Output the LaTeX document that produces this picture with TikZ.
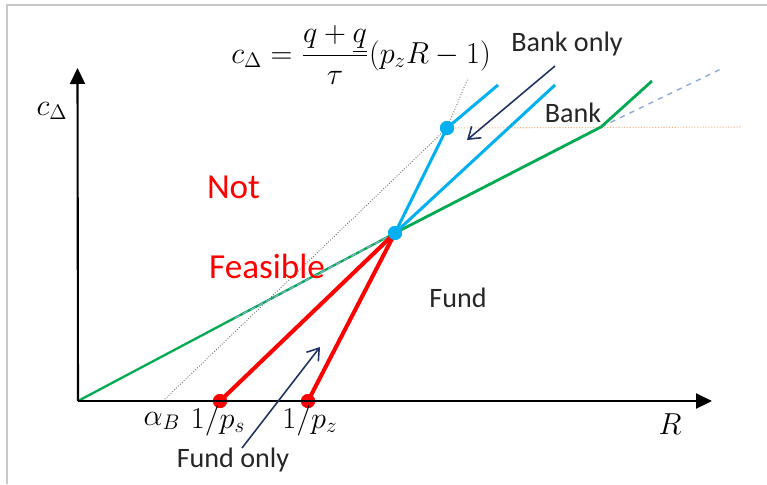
\documentclass[tikz,border=0pt]{standalone}
\usepackage[no-math]{fontspec}
\setmainfont{Carlito}
\usepackage{tikz}
\usetikzlibrary{arrows.meta,positioning}
\definecolor{fundgreen}{RGB}{0,170,80}
\definecolor{bankblue}{RGB}{0,176,240}
\definecolor{fundred}{RGB}{255,0,0}
\definecolor{arrnavy}{RGB}{31,50,100}
\definecolor{capora}{RGB}{244,177,131}
\definecolor{dashblue}{RGB}{143,170,220}
\definecolor{framegray}{RGB}{200,200,200}

\begin{document}
\begin{tikzpicture}[x=0.02cm,y=-0.02cm,>=Stealth,
  txt/.style={font=\fontsize{16}{19}\selectfont,text=black!85,inner sep=0pt,anchor=base},
  big/.style={txt,font=\fontsize{20}{24}\selectfont,text=fundred},
  mth/.style={font=\fontsize{17}{20}\selectfont,inner sep=0pt,anchor=base},
  axis/.style={line width=1.2pt,-{Triangle[length=0.32cm,width=0.3cm]}},
  dot/.style={circle,inner sep=0pt,minimum size=0.28cm},
  pointer/.style={arrnavy,line width=0.9pt,-{Straight Barb[length=0.22cm,width=0.3cm]}}]
  \useasboundingbox (0,0) rectangle (767,484);
  \draw[framegray,line width=0.8pt] (7,484) -- (7,5) -- (767,5);
  % points
  \coordinate (O) at (78,401);
  \coordinate (xend) at (712,401);
  \coordinate (yend) at (77.5,68);
  \coordinate (aB) at (163,401);
  \coordinate (kb) at (601,127);
  \coordinate (gtop) at (652,81);
  \coordinate (dtop) at (723,68);
  \coordinate (otop) at (742,127);
  \coordinate (ltop) at (468,78);
  \coordinate (b1) at (498,85);
  \coordinate (b2) at (555,85);
  \coordinate (gmid) at (235,318);
  \node[dot,fill=bankblue] (k) at (395,233) {};
  \node[dot,fill=bankblue] (u) at (447,128) {};
  \node[dot,fill=fundred] (ps) at (220,401) {};
  \node[dot,fill=fundred] (pz) at (308,401) {};
  % guide lines
  \draw[gray!80!black,line width=0.5pt,densely dotted] (aB) -- (u.center) -- (ltop);
  \draw[capora,line width=0.6pt,densely dotted] (u.center) -- (otop);
  \draw[dashblue,line width=0.8pt,dashed] (kb) -- (dtop);
  % frontiers
  \draw[fundgreen,line width=1.3pt] (O) -- (k.center);
  \draw[dashblue,line width=0.6pt,densely dashed] (gmid) -- (k.center);
  \draw[fundgreen,line width=1.6pt] (k.center) -- (kb) -- (gtop);
  \draw[bankblue,line width=1.7pt] (k.center) -- (u.center) -- (b1);
  \draw[bankblue,line width=1.7pt] (k.center) -- (b2);
  \draw[fundred,line width=2.3pt] (k.center) -- (ps.center);
  \draw[fundred,line width=2.3pt] (k.center) -- (pz.center);
  \node[dot,fill=bankblue] at (k) {};
  \node[dot,fill=bankblue] at (u) {};
  \node[dot,fill=fundred] at (ps) {};
  \node[dot,fill=fundred] at (pz) {};
  % axes
  \draw[axis] (O) -- (xend);
  \draw[axis] (O) -- (yend);
  % labels
  \node[mth] (cd) at (52,115) {$c_\Delta$};
  \node[mth] (rr) at (670,434) {$R$};
  \node[mth] (ab) at (162,425) {$\alpha_B$};
  \node[mth] (lps) at (218,428) {$1/p_s$};
  \node[mth] (lpz) at (310,428) {$1/p_z$};
  \node[mth,anchor=west] (eq) at (231,55)
    {$\displaystyle c_\Delta=\frac{q+\underline{q}}{\tau}(p_zR-1)$};
  \node[big] (nf1) at (233.5,198) {Not};
  \node[big] (nf2) at (267,278) {Feasible};
  \node[txt] (fd) at (458,307) {Fund};
  \node[txt] (bk) at (573,122) {Bank};
  \node[txt] (bo) at (567,51) {Bank only};
  \node[txt] (fo) at (233,467) {Fund only};
  % pointers
  \coordinate (bos) at (555,66);
  \coordinate (boe) at (467,140);
  \coordinate (fos) at (242,448);
  \coordinate (foe) at (320,347);
  \draw[pointer] (bos) -- (boe);
  \draw[pointer] (fos) -- (foe);
\end{tikzpicture}
\end{document}
